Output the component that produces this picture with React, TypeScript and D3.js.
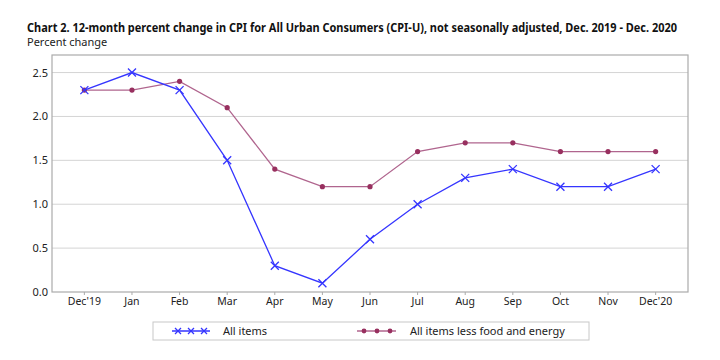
import React from "react";
import * as d3 from "d3";

const months = ["Dec'19", "Jan", "Feb", "Mar", "Apr", "May", "Jun", "Jul", "Aug", "Sep", "Oct", "Nov", "Dec'20"];
const allItems = [2.3, 2.5, 2.3, 1.5, 0.3, 0.1, 0.6, 1.0, 1.3, 1.4, 1.2, 1.2, 1.4];
const coreItems = [2.3, 2.3, 2.4, 2.1, 1.4, 1.2, 1.2, 1.6, 1.7, 1.7, 1.6, 1.6, 1.6];
const yTicks = [0, 0.5, 1.0, 1.5, 2.0, 2.5];
const seriesNames = ["All items", "All items less food and energy"];

const W = 720, H = 360;
const L = 52, R = 688, T = 55, B = 292;
const FONT = "'Noto Sans', 'Open Sans', sans-serif";
const BLUE = "#3535ff";
const CORE_LINE = "#b0658e";
const CORE_DOT = "#98305f";

function XMark({ x, y, s = 4 }: { x: number; y: number; s?: number }) {
  return (
    <path d={`M${x - s},${y - s}L${x + s},${y + s}M${x - s},${y + s}L${x + s},${y - s}`} stroke={BLUE} strokeWidth={1.3} fill="none" />
  );
}

export default function App() {
  const x = d3.scalePoint<string>().domain(months).range([L, R]).padding(0.68);
  const y = d3.scaleLinear().domain([0, 2.7]).range([B, T]);
  const line = d3.line<number>().x((_, i) => x(months[i])!).y((d) => y(d));

  return (
    <svg width={W} height={H} style={{ position: "absolute", left: 0, top: 0, background: "#fff" }}>
      <rect width={W} height={H} fill="#fff" />
      <text x={27} y={32} fontFamily={FONT} fontWeight="bold" fontSize={11.5} fill="#111" textLength={650} lengthAdjust="spacingAndGlyphs">
        Chart 2. 12-month percent change in CPI for All Urban Consumers (CPI-U), not seasonally adjusted, Dec. 2019 - Dec. 2020
      </text>
      <text x={27} y={46} fontFamily={FONT} fontSize={11} fill="#222">Percent change</text>

      {yTicks.filter((t) => t > 0).map((t) => (
        <line key={t} x1={L} x2={R} y1={y(t)} y2={y(t)} stroke="#d4d4d4" strokeWidth={1} />
      ))}
      <rect x={L} y={T} width={R - L} height={B - T} fill="none" stroke="#ababab" strokeWidth={1.2} />

      {yTicks.map((t) => (
        <text key={t} x={48} y={y(t) + 4} textAnchor="end" fontFamily={FONT} fontSize={11} fill="#222">
          {t.toFixed(1)}
        </text>
      ))}
      {months.map((m) => (
        <g key={m}>
          <line x1={x(m)} x2={x(m)} y1={B} y2={B + 3} stroke="#aaa" />
          <text x={x(m)} y={305} textAnchor="middle" fontFamily={FONT} fontSize={10.5} fill="#222">{m}</text>
        </g>
      ))}

      <path d={line(coreItems) || ""} fill="none" stroke={CORE_LINE} strokeWidth={1.3} />
      {coreItems.map((v, i) => (
        <circle key={i} cx={x(months[i])} cy={y(v)} r={2.6} fill={CORE_DOT} />
      ))}
      <path d={line(allItems) || ""} fill="none" stroke={BLUE} strokeWidth={1.3} />
      {allItems.map((v, i) => (
        <XMark key={i} x={x(months[i])!} y={y(v)} />
      ))}

      <rect x={153} y={322} width={436} height={18} fill="#fff" stroke="#c8c8c8" strokeWidth={1} />
      <line x1={172} x2={210} y1={331} y2={331} stroke={BLUE} strokeWidth={1.3} />
      {[178, 191, 204].map((cx) => <XMark key={cx} x={cx} y={331} s={3} />)}
      <text x={223} y={335} fontFamily={FONT} fontSize={11} fill="#222">{seriesNames[0]}</text>
      <line x1={357} x2={396} y1={331} y2={331} stroke={CORE_LINE} strokeWidth={1.3} />
      {[364, 377, 390].map((cx) => <circle key={cx} cx={cx} cy={331} r={2.4} fill={CORE_DOT} />)}
      <text x={410} y={335} fontFamily={FONT} fontSize={11} fill="#222">{seriesNames[1]}</text>
    </svg>
  );
}
